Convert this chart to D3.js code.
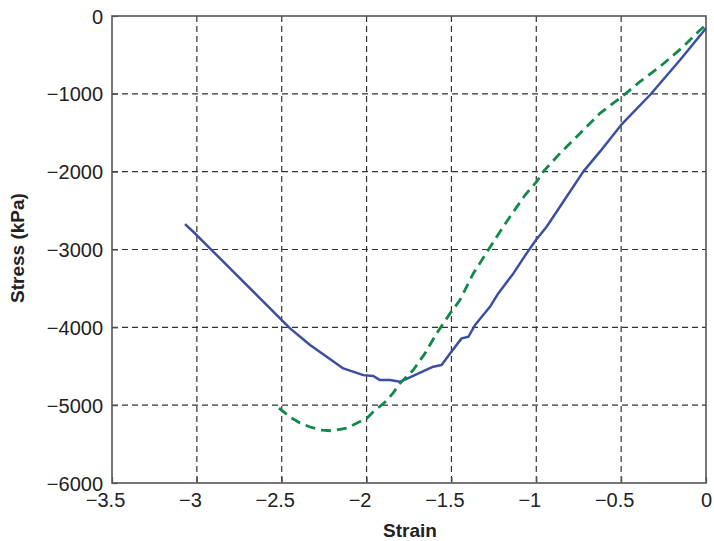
<!DOCTYPE html>
<html><head><meta charset="utf-8">
<script src="https://cdn.jsdelivr.net/npm/d3@7"></script>
<style>body{margin:0;background:#fff}svg{display:block}text{font-family:"Liberation Sans",Arial,sans-serif}</style>
</head><body><svg id="c" width="714" height="541"></svg>
<script>
const xTicks = [-3.5, -3, -2.5, -2, -1.5, -1, -0.5, 0];
const yTicks = [0, -1000, -2000, -3000, -4000, -5000, -6000];
const blueStrain = [-3.07,-3.007,-2.923,-2.765,-2.647,-2.51,-2.451,-2.333,-2.235,-2.137,-2.019,-1.96,-1.921,-1.862,-1.803,-1.607,-1.558,-1.508,-1.44,-1.4,-1.361,-1.273,-1.224,-1.135,-1.057,-1.002,-0.939,-0.841,-0.723,-0.625,-0.5,-0.33,-0.153,0];
const blueStress = [-2673,-2801,-2985,-3328,-3585,-3885,-4013,-4228,-4378,-4528,-4614,-4626,-4678,-4678,-4700,-4506,-4485,-4335,-4142,-4121,-3971,-3736,-3564,-3307,-3050,-2879,-2708,-2386,-2000,-1743,-1400,-1015,-565,-158];
const greenStrain = [-2.516,-2.451,-2.392,-2.333,-2.263,-2.2,-2.157,-2.115,-2.056,-1.997,-1.962,-1.891,-1.844,-1.803,-1.725,-1.656,-1.587,-1.508,-1.45,-1.371,-1.283,-1.233,-1.155,-1.066,-0.998,-0.959,-0.86,-0.762,-0.625,-0.5,-0.389,-0.271,-0.134,-0.035,0];
const greenStress = [-5037,-5153,-5230,-5281,-5320,-5330,-5310,-5294,-5230,-5166,-5089,-4960,-4845,-4720,-4549,-4335,-4078,-3821,-3650,-3307,-3007,-2836,-2579,-2300,-2129,-2000,-1764,-1551,-1250,-1045,-844,-651,-394,-180,-116];

const svg = d3.select("#c");
const L=112, R=706, T=16, B=483;
const x = d3.scaleLinear().domain([-3.5,0]).range([L,R]);
const y = d3.scaleLinear().domain([-6000,0]).range([B,T]);
const fmt = v => v < 0 ? "\u2212" + Math.abs(v) : String(v);

// grid
const g = svg.append("g");
g.selectAll(".vg").data(xTicks.slice(1,-1)).join("line")
  .attr("x1",d=>x(d)).attr("x2",d=>x(d)).attr("y1",T).attr("y2",B)
  .attr("stroke","#333").attr("stroke-width",1.2).attr("stroke-dasharray","6,4");
g.selectAll(".hg").data(yTicks.slice(1,-1)).join("line")
  .attr("y1",d=>y(d)).attr("y2",d=>y(d)).attr("x1",L).attr("x2",R)
  .attr("stroke","#333").attr("stroke-width",1.2).attr("stroke-dasharray","6,4");

// axes via d3
const xAxis = d3.axisBottom(x).tickValues(xTicks).tickSizeInner(-6).tickSizeOuter(0).tickFormat(fmt).tickPadding(10);
const yAxis = d3.axisLeft(y).tickValues(yTicks).tickSizeInner(-6).tickSizeOuter(0).tickFormat(fmt).tickPadding(15);
const xa = svg.append("g").attr("transform",`translate(0,${B})`).call(xAxis);
const ya = svg.append("g").attr("transform",`translate(${L},0)`).call(yAxis);
[xa,ya].forEach(a=>{
  a.select(".domain").remove();
  a.selectAll(".tick line").attr("stroke","#555").attr("stroke-width",1.2);
  a.selectAll("text").attr("font-size",20).attr("fill","#222").attr("font-family","'Liberation Sans',Arial,sans-serif");
});
xa.selectAll("text").attr("y",10).attr("dy","0.71em").attr("dx",d=>d<0?-7:0);
ya.selectAll("text").attr("dy","0.35em").attr("x",-9);

// frame
svg.append("rect").attr("x",L).attr("y",T).attr("width",R-L).attr("height",B-T)
  .attr("fill","none").attr("stroke","#555").attr("stroke-width",1.6);

const line = d3.line().x(d=>x(d[0])).y(d=>y(d[1]));
svg.append("path").datum(blueStrain.map((s,i)=>[s,blueStress[i]]))
  .attr("d",line).attr("fill","none").attr("stroke","#3a4fa3").attr("stroke-width",2.5).attr("stroke-linejoin","round");
svg.append("path").datum(greenStrain.map((s,i)=>[s,greenStress[i]]))
  .attr("d",line).attr("fill","none").attr("stroke","#13884a").attr("stroke-width",2.8).attr("stroke-dasharray","10,6");

svg.append("text").attr("x",410).attr("y",537).attr("text-anchor","middle")
  .attr("font-size",19).attr("font-weight","bold").attr("fill","#222").text("Strain");
svg.append("text").attr("transform","translate(24,248) rotate(-90)").attr("text-anchor","middle")
  .attr("font-size",19).attr("font-weight","bold").attr("fill","#222").text("Stress (kPa)");
</script></body></html>
